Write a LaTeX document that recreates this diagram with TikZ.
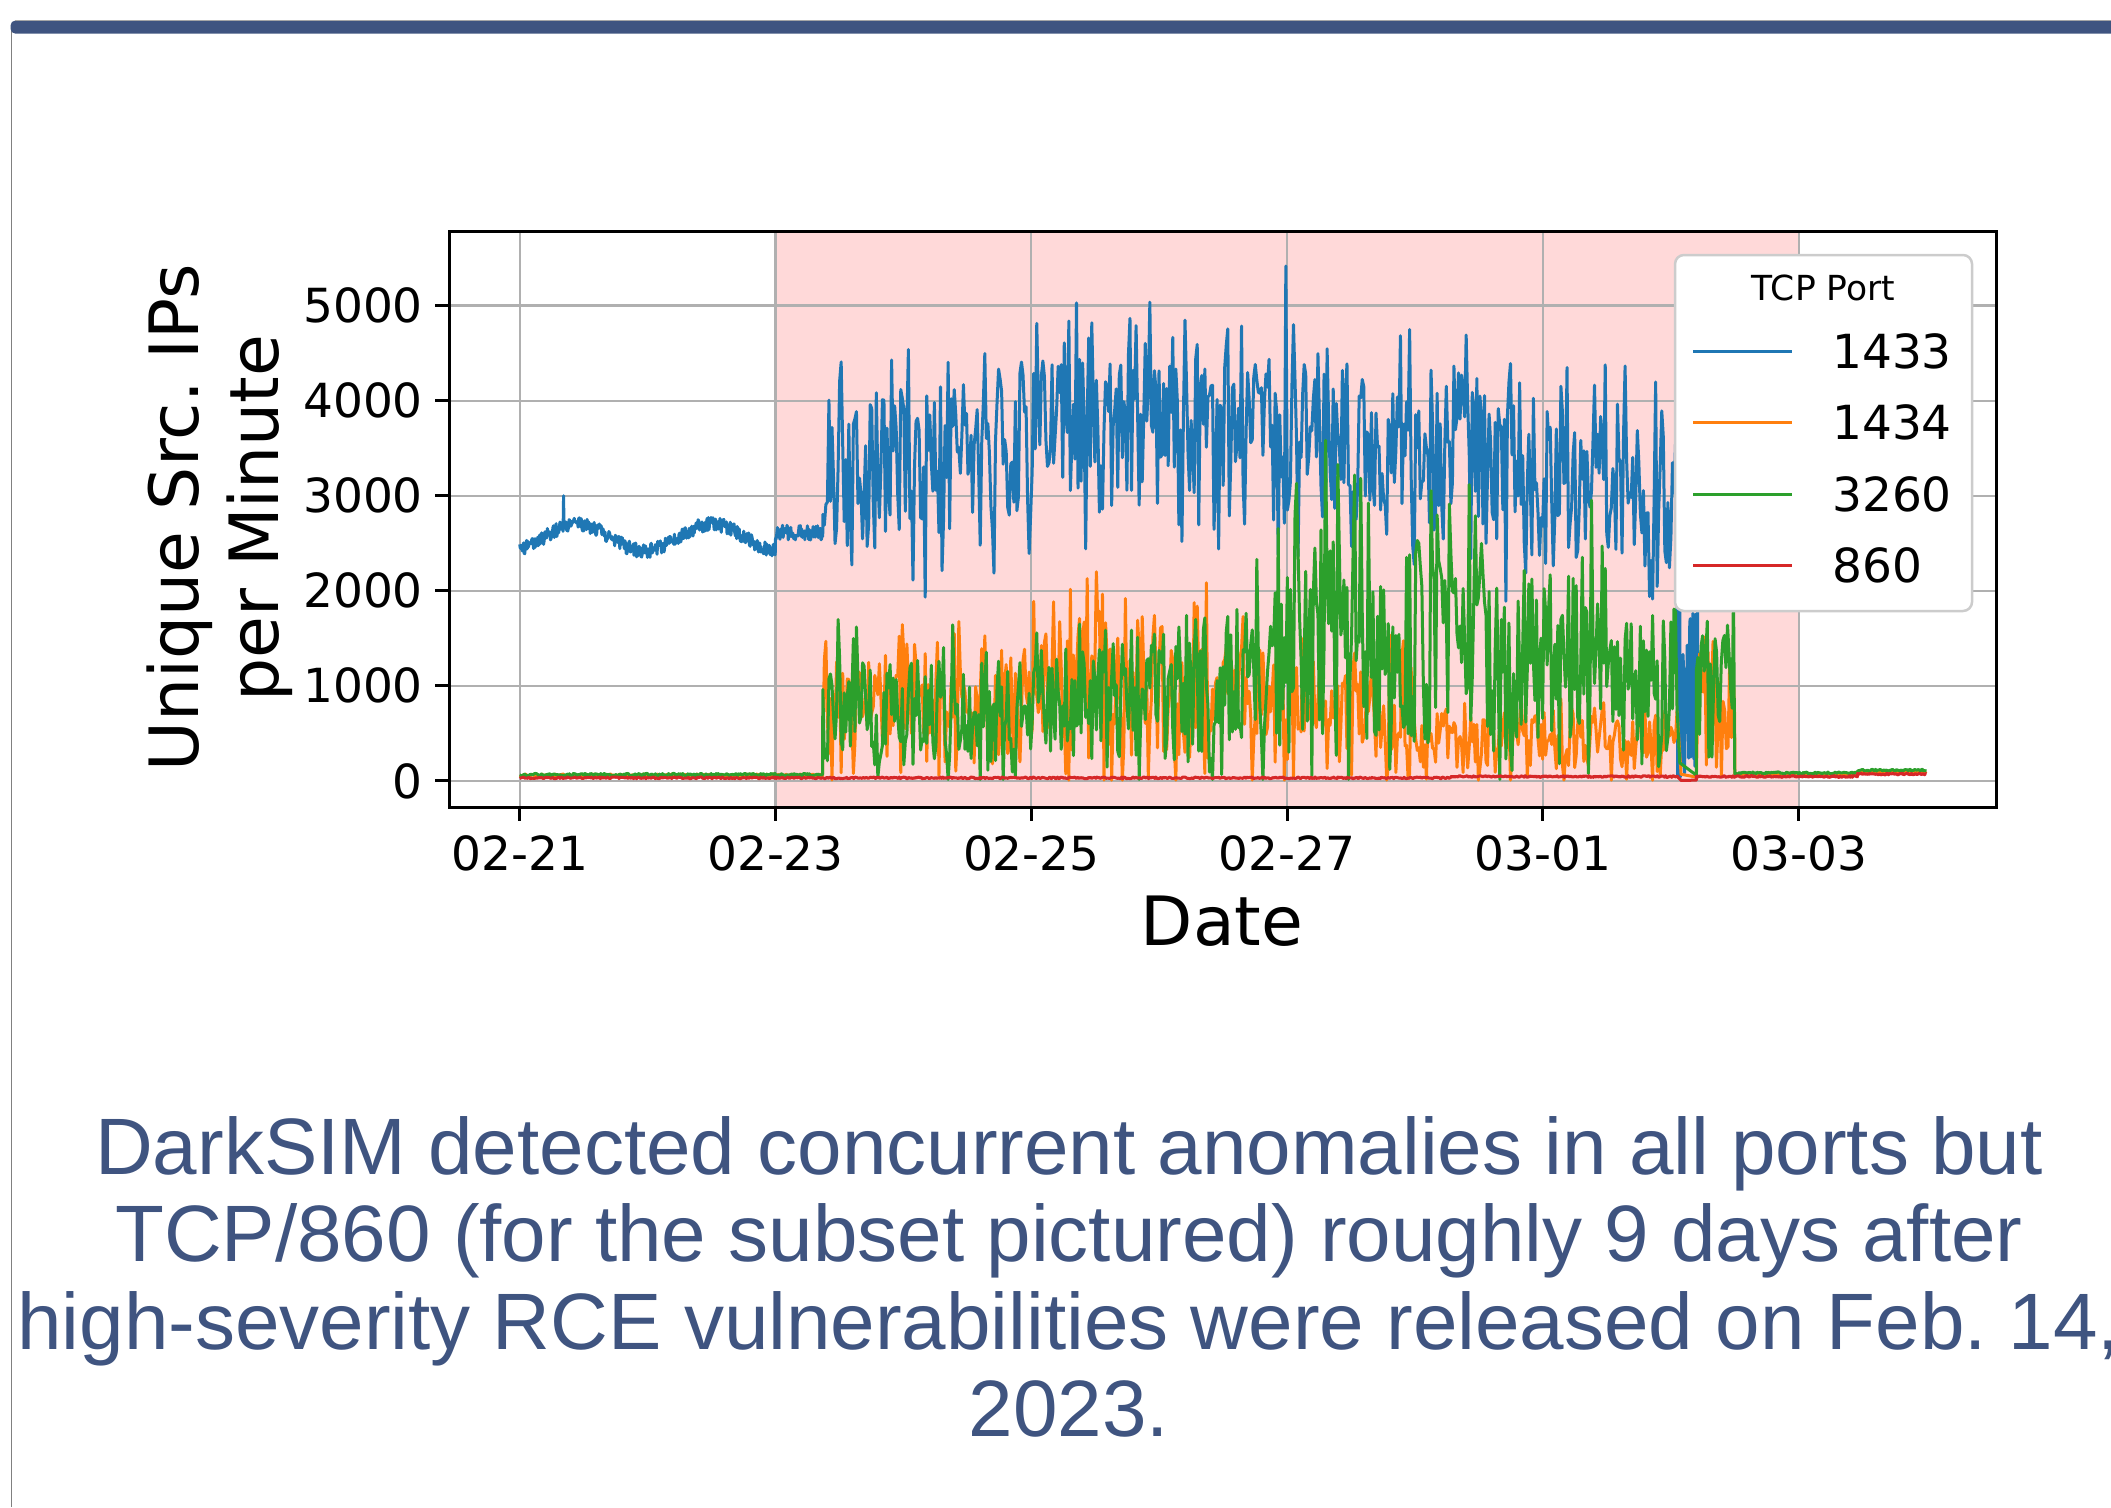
\documentclass[tikz,border=0pt]{standalone}
\usepackage{fontspec}
\setmainfont{DejaVu Sans}
\newfontfamily\slidefont{Liberation Sans}
\usetikzlibrary{positioning}
\definecolor{Port1433}{HTML}{1F77B4}
\definecolor{Port1434}{HTML}{FF7F0E}
\definecolor{Port3260}{HTML}{2CA02C}
\definecolor{Port860}{HTML}{D62728}
\definecolor{SpanPink}{HTML}{FFD9D9}
\definecolor{GridGray}{HTML}{B0B0B0}
\definecolor{LegendGray}{HTML}{CCCCCC}
\definecolor{SlideBlue}{RGB}{63,84,128}
\newcommand{\tickfont}{\fontsize{47}{56}\selectfont}
\newcommand{\axisfont}{\fontsize{68}{80}\selectfont}
\newcommand{\keytitlefont}{\fontsize{34.5}{41}\selectfont}
\newcommand{\notefont}{\slidefont\fontsize{80}{87.5}\selectfont}
\tikzset{
  series/.style={line width=3pt, line join=round},
  gridline/.style={draw=GridGray, line width=2.2pt},
  tickmark/.style={line width=3pt},
  ticklabel/.style={font=\tickfont, inner sep=0pt},
  note/.style={font=\notefont, text=SlideBlue, anchor=base, inner sep=0pt},
  declare function={
    mblue(\t)=\t<3 ? 3300 : (\t<4 ? 3500 : (\t<5.5 ? 3800 : (\t<6.5 ? 3700 : (\t<7.5 ? 3500 : (\t<8.5 ? 3250 : 3050)))));
    mgreen(\t)=\t<4 ? 750 : (\t<5.5 ? 880 : (\t<6 ? 1150 : (\t<7.5 ? 1550 : (\t<8.5 ? 1300 : 1000))));
    morange(\t)=\t<4 ? 820 : (\t<5 ? 1080 : (\t<6 ? 950 : (\t<7 ? 720 : 420)));
  }
}

\begin{document}
\begin{tikzpicture}[x=1pt, y=-1pt]
  \pgfmathsetseed{860}
  \useasboundingbox (0,0) rectangle (2111,1507);
  % slide frame
  \draw[gray, line width=1.3pt] (11.3,27) -- (11.3,1507);
  \fill[SlideBlue, rounded corners=5pt] (10.5,20.5) rectangle (2160,33.7);
  \draw[gray!70, line width=0.8pt] (15,20.7) -- (2111,20.7);
  %
  % plot area: days after 02-21 against IPs per minute
  \begin{scope}[shift={(519.7,780.9)}, x=127.9pt, y=0.09506pt]
    \fill[SpanPink] (2,-275) rectangle (10,5775);
    \foreach \d in {0,2,...,10}
      \draw[gridline] (\d,-275) -- (\d,5775);
    \foreach \v in {0,1000,...,5000}
      \draw[gridline] (-0.55,\v) -- (11.55,\v);
    %
    \begin{scope}
      \clip (-0.55,-275) rectangle (11.55,5775);
      % 1433
      \draw[series, Port1433]
        plot[domain=0:0.34, samples=70] (\x,{2560+140*cos(360*(\x-0.45)/1.05)+75*rand})
        -- (0.343,3000)
        -- plot[domain=0.346:2, samples=330] (\x,{2560+140*cos(360*(\x-0.45)/1.05)+75*rand})
        -- plot[domain=2:2.37, samples=75] (\x,{2610+80*rand})
        -- plot[domain=2.37:9.05, samples=560] (\x,{mblue(\x)+850*rand+950*rand*rand})
        -- plot[domain=9.05:9.21, samples=40] (\x,{max(40,900+1000*rand)})
        -- plot[domain=9.21:9.5, samples=24] (\x,{3000+600*rand})
        -- (9.5,2000);
      % 1434
      \draw[series, Port1434]
        plot[domain=0:2.37, samples=300] (\x,{58+15*rand})
        -- plot[domain=2.37:9.05, samples=560] (\x,{max(8,morange(\x)*(1+0.75*rand+0.85*rand*rand))})
        -- (9.08,70) -- (9.2,40)
        -- plot[domain=9.2:9.5, samples=24] (\x,{max(30,800+800*rand)})
        -- plot[domain=9.5:11, samples=200] (\x,{(\x<10.46 ? 62 : 92)+12*rand});
      % 3260
      \draw[series, Port3260]
        plot[domain=0:2.37, samples=300] (\x,{66+14*rand})
        -- plot[domain=2.37:9.05, samples=560] (\x,{max(15,mgreen(\x)*(1+0.7*rand+0.8*rand*rand))})
        -- (9.07,190) -- (9.2,60)
        -- plot[domain=9.2:9.48, samples=24] (\x,{max(250,950+800*rand)})
        -- (9.49,2000) -- (9.5,85)
        -- plot[domain=9.5:10.46, samples=130] (\x,{84+10*rand})
        -- plot[domain=10.46:11, samples=70] (\x,{112+10*rand});
      % 860
      \draw[series, Port860]
        plot[domain=0:7.28, samples=900] (\x,{32+9*rand})
        -- plot[domain=7.28:9.05, samples=220] (\x,{46+9*rand})
        -- (9.08,5) -- (9.2,8)
        -- plot[domain=9.2:10.46, samples=160] (\x,{46+9*rand})
        -- plot[domain=10.46:11, samples=70] (\x,{72+9*rand});
    \end{scope}
    \draw[line width=3pt] (-0.55,-275) rectangle (11.55,5775);
    % ticks
    \foreach \v in {0,1000,...,5000}
      \draw[tickmark] (-0.55,\v) -- ++(-14pt,0) node[ticklabel, anchor=east, xshift=-11pt] (ylab\v) {\v};
    \foreach \d/\day in {0/02-21,2/02-23,4/02-25,6/02-27,8/03-01,10/03-03}
      \draw[tickmark] (\d,-275) -- ++(0,-14pt) node[ticklabel, anchor=north, yshift=-13pt] (xlab\d) {\day};
  \end{scope}
  %
  % axis titles
  \node[font=\axisfont, inner sep=0pt] (xtitle) at (1222,921) {Date};
  \node[font=\axisfont, align=center, rotate=90, inner sep=0pt] (ytitle) at (220,518) {Unique Src.\ IPs\\per Minute};
  %
  % legend
  \node[draw=LegendGray, line width=2.5pt, fill=white, rounded corners=9pt, minimum width=297pt, minimum height=356pt, inner sep=0pt] (legendbox) at (1823.5,433) {};
  \node[font=\keytitlefont, inner sep=0pt] (legendtitle) at (1823.5,288) {TCP Port};
  \foreach \i/\port in {0/1433,1/1434,2/3260,3/860} {
    \coordinate (key\port) at (1693,351.4+71.3*\i);
    \draw[series, Port\port] (key\port) -- ++(99,0) coordinate (keyend\port);
    \node[ticklabel, right=40pt of keyend\port] (keylab\port) {\port};
  }
  %
  % caption
  \node[note] (note1) at (1069,1174) {DarkSIM detected concurrent anomalies in all ports but};
  \node[note] (note2) at (1069,1261.5) {TCP/860 (for the subset pictured) roughly 9 days after};
  \node[note] (note3) at (1069,1349) {high-severity RCE vulnerabilities were released on Feb.\ 14,};
  \node[note] (note4) at (1069,1436.5) {2023.};
\end{tikzpicture}
\end{document}
